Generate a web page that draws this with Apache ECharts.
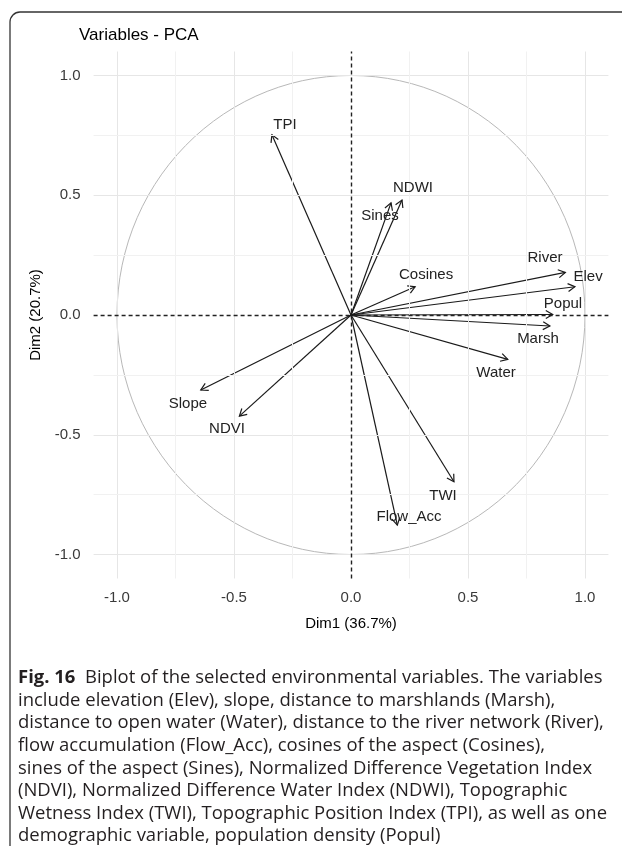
<!DOCTYPE html>
<html><head><meta charset="utf-8">
<script src="https://cdn.jsdelivr.net/npm/echarts@6/dist/echarts.min.js"></script>
<style>html,body{margin:0;padding:0;background:#fff}#c{width:622px;height:858px}</style>
</head><body><div id="c"></div>
<script>
// ---- data ----
const variables = ['Slope','NDVI','TPI','Sines','NDWI','Cosines','River','Elev','Popul','Marsh','Water','TWI','Flow_Acc'];
const dim1 = [-0.642,-0.477,-0.338,0.171,0.218,0.274,0.916,0.957,0.862,0.850,0.670,0.440,0.198];
const dim2 = [-0.313,-0.422,0.752,0.468,0.480,0.118,0.178,0.118,0.002,-0.046,-0.185,-0.696,-0.877];
const labelDim1 = [-0.697,-0.530,-0.282,0.124,0.265,0.321,0.829,1.013,0.906,0.799,0.620,0.393,0.248];
const labelDim2 = [-0.372,-0.476,0.793,0.413,0.530,0.167,0.238,0.159,0.046,-0.100,-0.242,-0.756,-0.843];
const xTicks = [-1.0,-0.5,0.0,0.5,1.0];
const yTicks = [-1.0,-0.5,0.0,0.5,1.0];
const majorGrid = [-1.0,-0.5,0.5,1.0];
const minorGrid = [-0.75,-0.25,0.25,0.75];
const chartTitle = 'Variables - PCA';
const xTitle = 'Dim1 (36.7%)';
const yTitle = 'Dim2 (20.7%)';
const captionLead = 'Fig. 16';
const captionLines = [
  'Biplot of the selected environmental variables. The variables',
  'include elevation (Elev), slope, distance to marshlands (Marsh),',
  'distance to open water (Water), distance to the river network (River),',
  'flow accumulation (Flow_Acc), cosines of the aspect (Cosines),',
  'sines of the aspect (Sines), Normalized Difference Vegetation Index',
  '(NDVI), Normalized Difference Water Index (NDWI), Topographic',
  'Wetness Index (TWI), Topographic Position Index (TPI), as well as one',
  'demographic variable, population density (Popul)'
];

// ---- chart ----
const chart = echarts.init(document.getElementById('c'), null, {renderer:'canvas'});
const fmt = v => v.toFixed(1);
const gridLines = [];
majorGrid.forEach(v => { gridLines.push({xAxis:v, lineStyle:{color:'#e6e6e6', width:1, type:'solid'}}); gridLines.push({yAxis:v, lineStyle:{color:'#e6e6e6', width:1, type:'solid'}}); });
minorGrid.forEach(v => { gridLines.push({xAxis:v, lineStyle:{color:'#f1f1f1', width:1, type:'solid'}}); gridLines.push({yAxis:v, lineStyle:{color:'#f1f1f1', width:1, type:'solid'}}); });

// fit caption font size so that the widest line spans the same width as in the reference
const capFont = '"Open Sans"';
const mctx = document.createElement('canvas').getContext('2d');
mctx.font = '20px ' + capFont;
const w20 = mctx.measureText(captionLines[2]).width;
const capSize = Math.min(19, 20 * 586 / w20);

const captionGraphics = captionLines.map((t,i) => ({
  type:'text', x:18, y:678 + i*22.6,
  style: i===0 ? {
    text:'{b|' + captionLead + '}  ' + t,
    rich:{b:{fontWeight:'bold', fontFamily:capFont, fontSize:capSize, fill:'#231f20'}},
    fontFamily:capFont, fontSize:capSize, fill:'#231f20', verticalAlign:'middle'
  } : {text:t, fontFamily:capFont, fontSize:capSize, fill:'#231f20', verticalAlign:'middle'}
}));

const option = {
  backgroundColor:'#fff',
  animation:false,
  grid:{left:93.6, top:51.5, width:514.8, height:527, containLabel:false},
  xAxis:{type:'value', min:-1.1, max:1.1,
    name:xTitle, nameLocation:'middle', nameGap:38,
    nameTextStyle:{fontFamily:'Liberation Sans', fontSize:15, color:'#000'},
    axisLine:{show:false}, splitLine:{show:false},
    axisTick:{show:true, length:4, customValues:xTicks, lineStyle:{color:'#333', width:1}},
    axisLabel:{customValues:xTicks, formatter:fmt, margin:12, fontFamily:'Liberation Sans', fontSize:15, color:'#3a3a3a'}},
  yAxis:{type:'value', min:-1.1, max:1.1,
    name:yTitle, nameLocation:'middle', nameGap:43, nameRotate:90,
    nameTextStyle:{fontFamily:'Liberation Sans', fontSize:15, color:'#000'},
    axisLine:{show:false}, splitLine:{show:false},
    axisTick:{show:true, length:4, customValues:yTicks, lineStyle:{color:'#333', width:1}},
    axisLabel:{customValues:yTicks, formatter:fmt, margin:13, fontFamily:'Liberation Sans', fontSize:15, color:'#3a3a3a'}},
  graphic:[
    {type:'line', shape:{x1:10, y1:846, x2:10, y2:22}, style:{stroke:'#333', lineWidth:1.3}},
    {type:'arc', shape:{cx:20, cy:22, r:10, startAngle:Math.PI, endAngle:Math.PI*1.5}, style:{stroke:'#333', lineWidth:1.3, fill:null}},
    {type:'line', shape:{x1:20, y1:12, x2:622, y2:12}, style:{stroke:'#333', lineWidth:1.3}},
    {type:'text', x:79, y:35, style:{text:chartTitle, fontFamily:'Liberation Sans', fontSize:17, fill:'#000', verticalAlign:'middle'}}
  ].concat(captionGraphics),
  series:[
    {type:'line', data:[], silent:true, z:1,
     markLine:{silent:true, symbol:'none', label:{show:false}, animation:false, data:gridLines}},
    {type:'custom', coordinateSystem:'cartesian2d', silent:true, z:2, data:[[0,0]],
     renderItem(params, api){
       const pts = [];
       for (let k=0;k<=120;k++){ const a = k/120*2*Math.PI; pts.push(api.coord([Math.cos(a), Math.sin(a)])); }
       return {type:'polyline', shape:{points:pts}, style:{stroke:'#b8b8b8', lineWidth:1, fill:null}};
     }},
    {type:'line', data:[], silent:true, z:3,
     markLine:{silent:true, symbol:'none', label:{show:false}, animation:false,
       lineStyle:{color:'#222', width:1.4, type:[4,3]},
       data:[{xAxis:0},{yAxis:0}]}},
    {type:'custom', coordinateSystem:'cartesian2d', silent:true, z:4,
     data: variables.map((v,i)=>[dim1[i], dim2[i]]),
     renderItem(params, api){
       const o = api.coord([0,0]);
       const p = api.coord([api.value(0), api.value(1)]);
       const ang = Math.atan2(p[1]-o[1], p[0]-o[0]);
       const L = 8, a = Math.PI/6;
       const h1 = [p[0]-L*Math.cos(ang-a), p[1]-L*Math.sin(ang-a)];
       const h2 = [p[0]-L*Math.cos(ang+a), p[1]-L*Math.sin(ang+a)];
       return {type:'group', children:[
         {type:'line', shape:{x1:o[0], y1:o[1], x2:p[0], y2:p[1]}, style:{stroke:'#1a1a1a', lineWidth:1.2}},
         {type:'polyline', shape:{points:[h1,p,h2]}, style:{stroke:'#1a1a1a', lineWidth:1.2, fill:null}}
       ]};
     }},
    {type:'custom', coordinateSystem:'cartesian2d', silent:true, z:5,
     data: variables.map((v,i)=>({value:[labelDim1[i], labelDim2[i]], name:v})),
     renderItem(params, api){
       const p = api.coord([api.value(0), api.value(1)]);
       return {type:'text', x:p[0], y:p[1], style:{text:variables[params.dataIndex], align:'center', verticalAlign:'middle',
         fontFamily:'Liberation Sans', fontSize:15, fill:'#222'}};
     }}
  ]
};
chart.setOption(option);
</script></body></html>
